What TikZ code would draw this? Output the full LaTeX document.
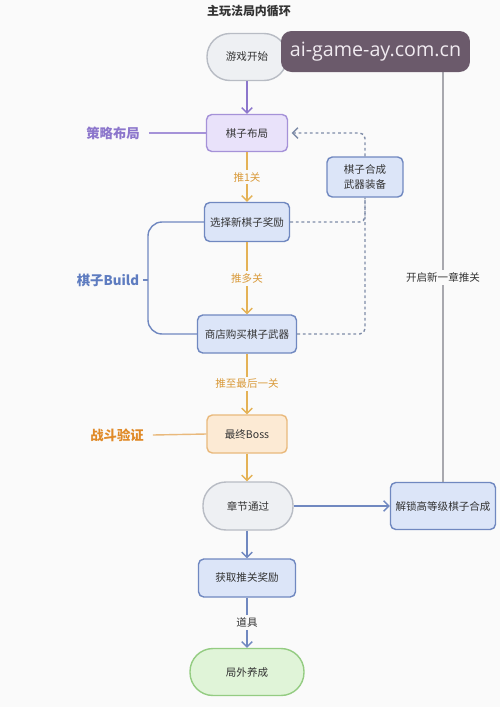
\documentclass[tikz,border=0pt]{standalone}
\usepackage{fontspec}
\setmainfont{Noto Sans CJK SC}
\newfontfamily\wmfont{Open Sans}
\usetikzlibrary{arrows.meta}
\definecolor{bgc}{HTML}{FAFAFA}
\definecolor{txt}{HTML}{333333}
\definecolor{pur}{HTML}{8C76CC}
\definecolor{purfill}{HTML}{E9E2FA}
\definecolor{purline}{HTML}{A592D8}
\definecolor{blu}{HTML}{5E7CC0}
\definecolor{blufill}{HTML}{DCE5F8}
\definecolor{bluline}{HTML}{7088C0}
\definecolor{org}{HTML}{E08A28}
\definecolor{orgline}{HTML}{E4B256}
\definecolor{orgtxt}{HTML}{D99A3A}
\definecolor{orgfill}{HTML}{FCEAD4}
\definecolor{orgbord}{HTML}{E9B97C}
\definecolor{gryfill}{HTML}{EEF0F3}
\definecolor{grybord}{HTML}{B8BCC4}
\definecolor{grnfill}{HTML}{E0F4D8}
\definecolor{grnbord}{HTML}{94CC82}
\definecolor{loopc}{HTML}{A8A8AE}
\definecolor{dashc}{HTML}{7E8CA8}
\definecolor{wmfill}{HTML}{6B5A6B}
\definecolor{wmtxt}{HTML}{F0EAF0}
\tikzset{
  box/.style={draw, line width=0.8pt, rounded corners=3pt, inner sep=0pt, align=center, text=txt, font=\fontsize{6}{7.5}\selectfont},
  stadium/.style={box, rounded corners=0.46cm},
  purbox/.style={box, draw=purline, fill=purfill},
  blubox/.style={box, draw=bluline, fill=blufill},
  orgbox/.style={box, draw=orgbord, fill=orgfill},
  grybox/.style={stadium, draw=grybord, fill=gryfill},
  grnbox/.style={stadium, draw=grnbord, fill=grnfill},
  tip/.style={-{Straight Barb[length=3pt,width=6pt]}},
  purarrow/.style={tip, draw=pur, line width=0.8pt},
  orgarrow/.style={tip, draw=orgline, line width=0.8pt},
  bluarrow/.style={tip, draw=bluline, line width=0.8pt},
  dashline/.style={draw=dashc, line width=0.8pt, dash pattern=on 1.6pt off 1.6pt, rounded corners=3pt},
  sidelabel/.style={font=\fontsize{7.6}{9}\selectfont\bfseries, inner sep=1pt},
  edgelabel/.style={fill=bgc, inner sep=1.5pt, font=\fontsize{6}{7}\selectfont},
}
\begin{document}
\begin{tikzpicture}[x=0.02cm,y=-0.02cm]
\fill[bgc] (0,0) rectangle (500,707);
\useasboundingbox (0,0) rectangle (500,707);

\node[font=\fontsize{6.8}{8}\selectfont\bfseries, text=txt] (title) at (249,11) {主玩法局内循环};

\node[grybox, minimum width=1.6cm, minimum height=0.94cm] (start) at (247,57) {游戏开始};
\node[purbox, minimum width=1.62cm, minimum height=0.74cm] (layout) at (247,133) {棋子布局};
\node[blubox, minimum width=1.52cm, minimum height=0.8cm] (synth) at (365,177) {棋子合成\\[1pt]武器装备};
\node[blubox, minimum width=1.7cm, minimum height=0.78cm] (select) at (247,222) {选择新棋子奖励};
\node[blubox, minimum width=1.98cm, minimum height=0.76cm] (shop) at (247,334) {商店购买棋子武器};
\node[orgbox, minimum width=1.6cm, minimum height=0.76cm] (boss) at (247,434) {最终Boss};
\node[grybox, minimum width=1.8cm, minimum height=0.96cm] (pass) at (248,506) {章节通过};
\node[blubox, minimum width=2.1cm, minimum height=0.94cm] (unlock) at (443,506) {解锁高等级棋子合成};
\node[blubox, minimum width=1.94cm, minimum height=0.76cm] (reward) at (247,578) {获取推关奖励};
\node[grnbox, minimum width=2.28cm, minimum height=0.94cm] (outer) at (247,672) {局外养成};

% side labels
\node[sidelabel, text=pur] (lstrat) at (113,133) {策略布局};
\node[sidelabel, text=blu] (lbuild) at (108,280) {棋子Build};
\node[sidelabel, text=org] (lfight) at (117,435) {战斗验证};
\draw[purline, line width=0.8pt] (lstrat.east) ++(4pt,0) -- (layout.west);
\draw[orgbord, line width=0.8pt] (lfight.east) ++(4pt,0) -- (boss.west);
\coordinate (bx) at (148,280);
\draw[bluline, line width=0.8pt, rounded corners=8pt] (select.west) -| (bx) |- (shop.west);
\draw[bluline, line width=0.8pt] (lbuild.east) ++(1pt,0) -- (bx);

% main flow
\draw[purarrow] (start.south) -- (layout.north);
\draw[orgarrow] (layout.south) -- node[edgelabel, text=orgtxt] {推1关} (select.north);
\draw[orgarrow] (select.south) -- node[edgelabel, text=orgtxt] {推多关} (shop.north);
\draw[orgarrow] (shop.south) -- node[edgelabel, text=orgtxt] {推至最后一关} (boss.north);
\draw[orgarrow] (boss.south) -- (boss.south |- pass.north);
\draw[bluarrow] (pass.east) -- (unlock.west);
\draw[bluarrow] (pass.south -| reward.north) -- (reward.north);
\draw[bluarrow] (reward.south) -- node[edgelabel, text=txt] {道具} (outer.north);

% dashed links
\draw[dashline, tip] (synth.north) |- ([xshift=2pt]layout.east);
\draw[dashline] (select.east) -| (synth.south);
\draw[dashline] (shop.east) -| (synth.south);

% loop back
\coordinate (ltop) at (443,57);
\draw[loopc, line width=0.8pt, tip] (unlock.north) -- node[edgelabel, text=txt, pos=0.48] {开启新一章推关} (ltop) -- (start.east);

% watermark
\node[fill=wmfill, rounded corners=6pt, text=wmtxt, minimum width=3.78cm, minimum height=0.82cm, inner sep=0pt, font=\wmfont\fontsize{11.2}{12}\selectfont] (wm) at (375.5,51.5) {ai-game-ay.com.cn};
\end{tikzpicture}
\end{document}
